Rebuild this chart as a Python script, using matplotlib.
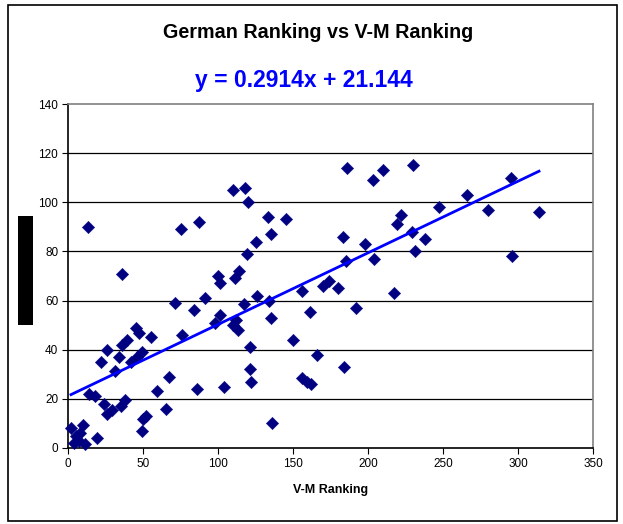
import matplotlib
matplotlib.use("Agg")
import matplotlib.pyplot as plt
from matplotlib.patches import Rectangle
import numpy as np

plt.rcParams['font.family'] = ['Liberation Sans', 'DejaVu Sans']

title = "German Ranking vs V-M Ranking"
equation = "y = 0.2914x + 21.144"
slope = 0.2914
intercept = 21.144
x_label = "V-M Ranking"

vm_rank = [13, 75, 87, 110, 118, 120, 125, 119, 114, 111, 100, 101, 36, 91, 71,
           84, 117, 126, 134, 135, 101, 98, 112, 110, 113, 121, 121, 122, 104, 86,
           76, 55, 45, 47, 36, 39, 26, 34, 22, 31, 42, 49, 46, 67, 59,
           65, 52, 50, 49, 14, 18, 24, 26, 29, 35, 38, 19, 2, 10, 5,
           7, 11, 8, 4, 186, 203, 210, 230, 133, 145, 135, 247, 222, 219, 183,
           198, 229, 238, 231, 185, 204, 295, 266, 280, 314, 296, 156, 170, 174, 180,
           217, 161, 192, 150, 166, 184, 156, 162, 159, 136]
german_rank = [90, 89, 92, 105, 106, 100, 84, 79, 72, 69, 70, 67, 71, 61, 59,
               56, 58.5, 62, 60, 53, 54, 51, 52, 50, 48, 41, 32, 27, 25, 24,
               46, 45, 49, 47, 42, 44, 40, 37, 35, 31.5, 35, 39, 37, 29, 23,
               16, 13, 12, 7, 22, 21, 18, 14, 15.5, 17, 19.5, 4, 8, 9.5, 5,
               3, 1.5, 6, 2, 114, 109, 113, 115, 94, 93, 87, 98, 95, 91, 86,
               83, 88, 85, 80, 76, 77, 110, 103, 97, 96, 78, 64, 66, 68, 65,
               63, 55.5, 57, 44, 38, 33, 28.5, 26, 27, 10]

x_ticks = [0, 50, 100, 150, 200, 250, 300, 350]
y_ticks = [0, 20, 40, 60, 80, 100, 120, 140]

fig = plt.figure(figsize=(6.23, 5.24), dpi=100)
fig.patch.set_facecolor('white')
ax = fig.add_axes([68/623, 1-448/524, 525/623, 344/524])

ax.set_xlim(0, 350)
ax.set_ylim(0, 140)
ax.set_xticks(x_ticks)
ax.set_yticks(y_ticks)
ax.tick_params(axis='both', direction='out', length=4, width=0.8, labelsize=8.5, colors='black', pad=3)

for y in y_ticks[1:-1]:
    ax.axhline(y, color='black', lw=0.9, zorder=1)

ax.spines['left'].set_color('black')
ax.spines['bottom'].set_color('black')
ax.spines['top'].set_color('#808080')
ax.spines['right'].set_color('#808080')
for s in ax.spines.values():
    s.set_linewidth(1.2)

ax.scatter(vm_rank, german_rank, marker='D', s=40, color='#000080', edgecolors='#000080', linewidths=0.3, zorder=3, clip_on=False)

xs = np.array([min(vm_rank), max(vm_rank)])
ax.plot(xs, slope*xs + intercept, color='#0000FF', lw=2.0, zorder=4)

ax.set_xlabel(x_label, fontsize=9, fontweight='bold', labelpad=10)

fig.text(0.511, 1-33/524, title, ha='center', va='center', fontsize=14.2, fontweight='bold')
fig.text(0.487, 1-81/524, equation, ha='center', va='center', fontsize=16.5, fontweight='bold', color='#0000FF')

fig.add_artist(Rectangle((18/623, 1-325/524), 15/623, 109/524, transform=fig.transFigure, facecolor='black', edgecolor='none'))
fig.add_artist(Rectangle((8/623, 1-521/524), 609/623, 516/524, transform=fig.transFigure, facecolor='none', edgecolor='black', lw=1.2))

fig.savefig('out.png', dpi=100)
